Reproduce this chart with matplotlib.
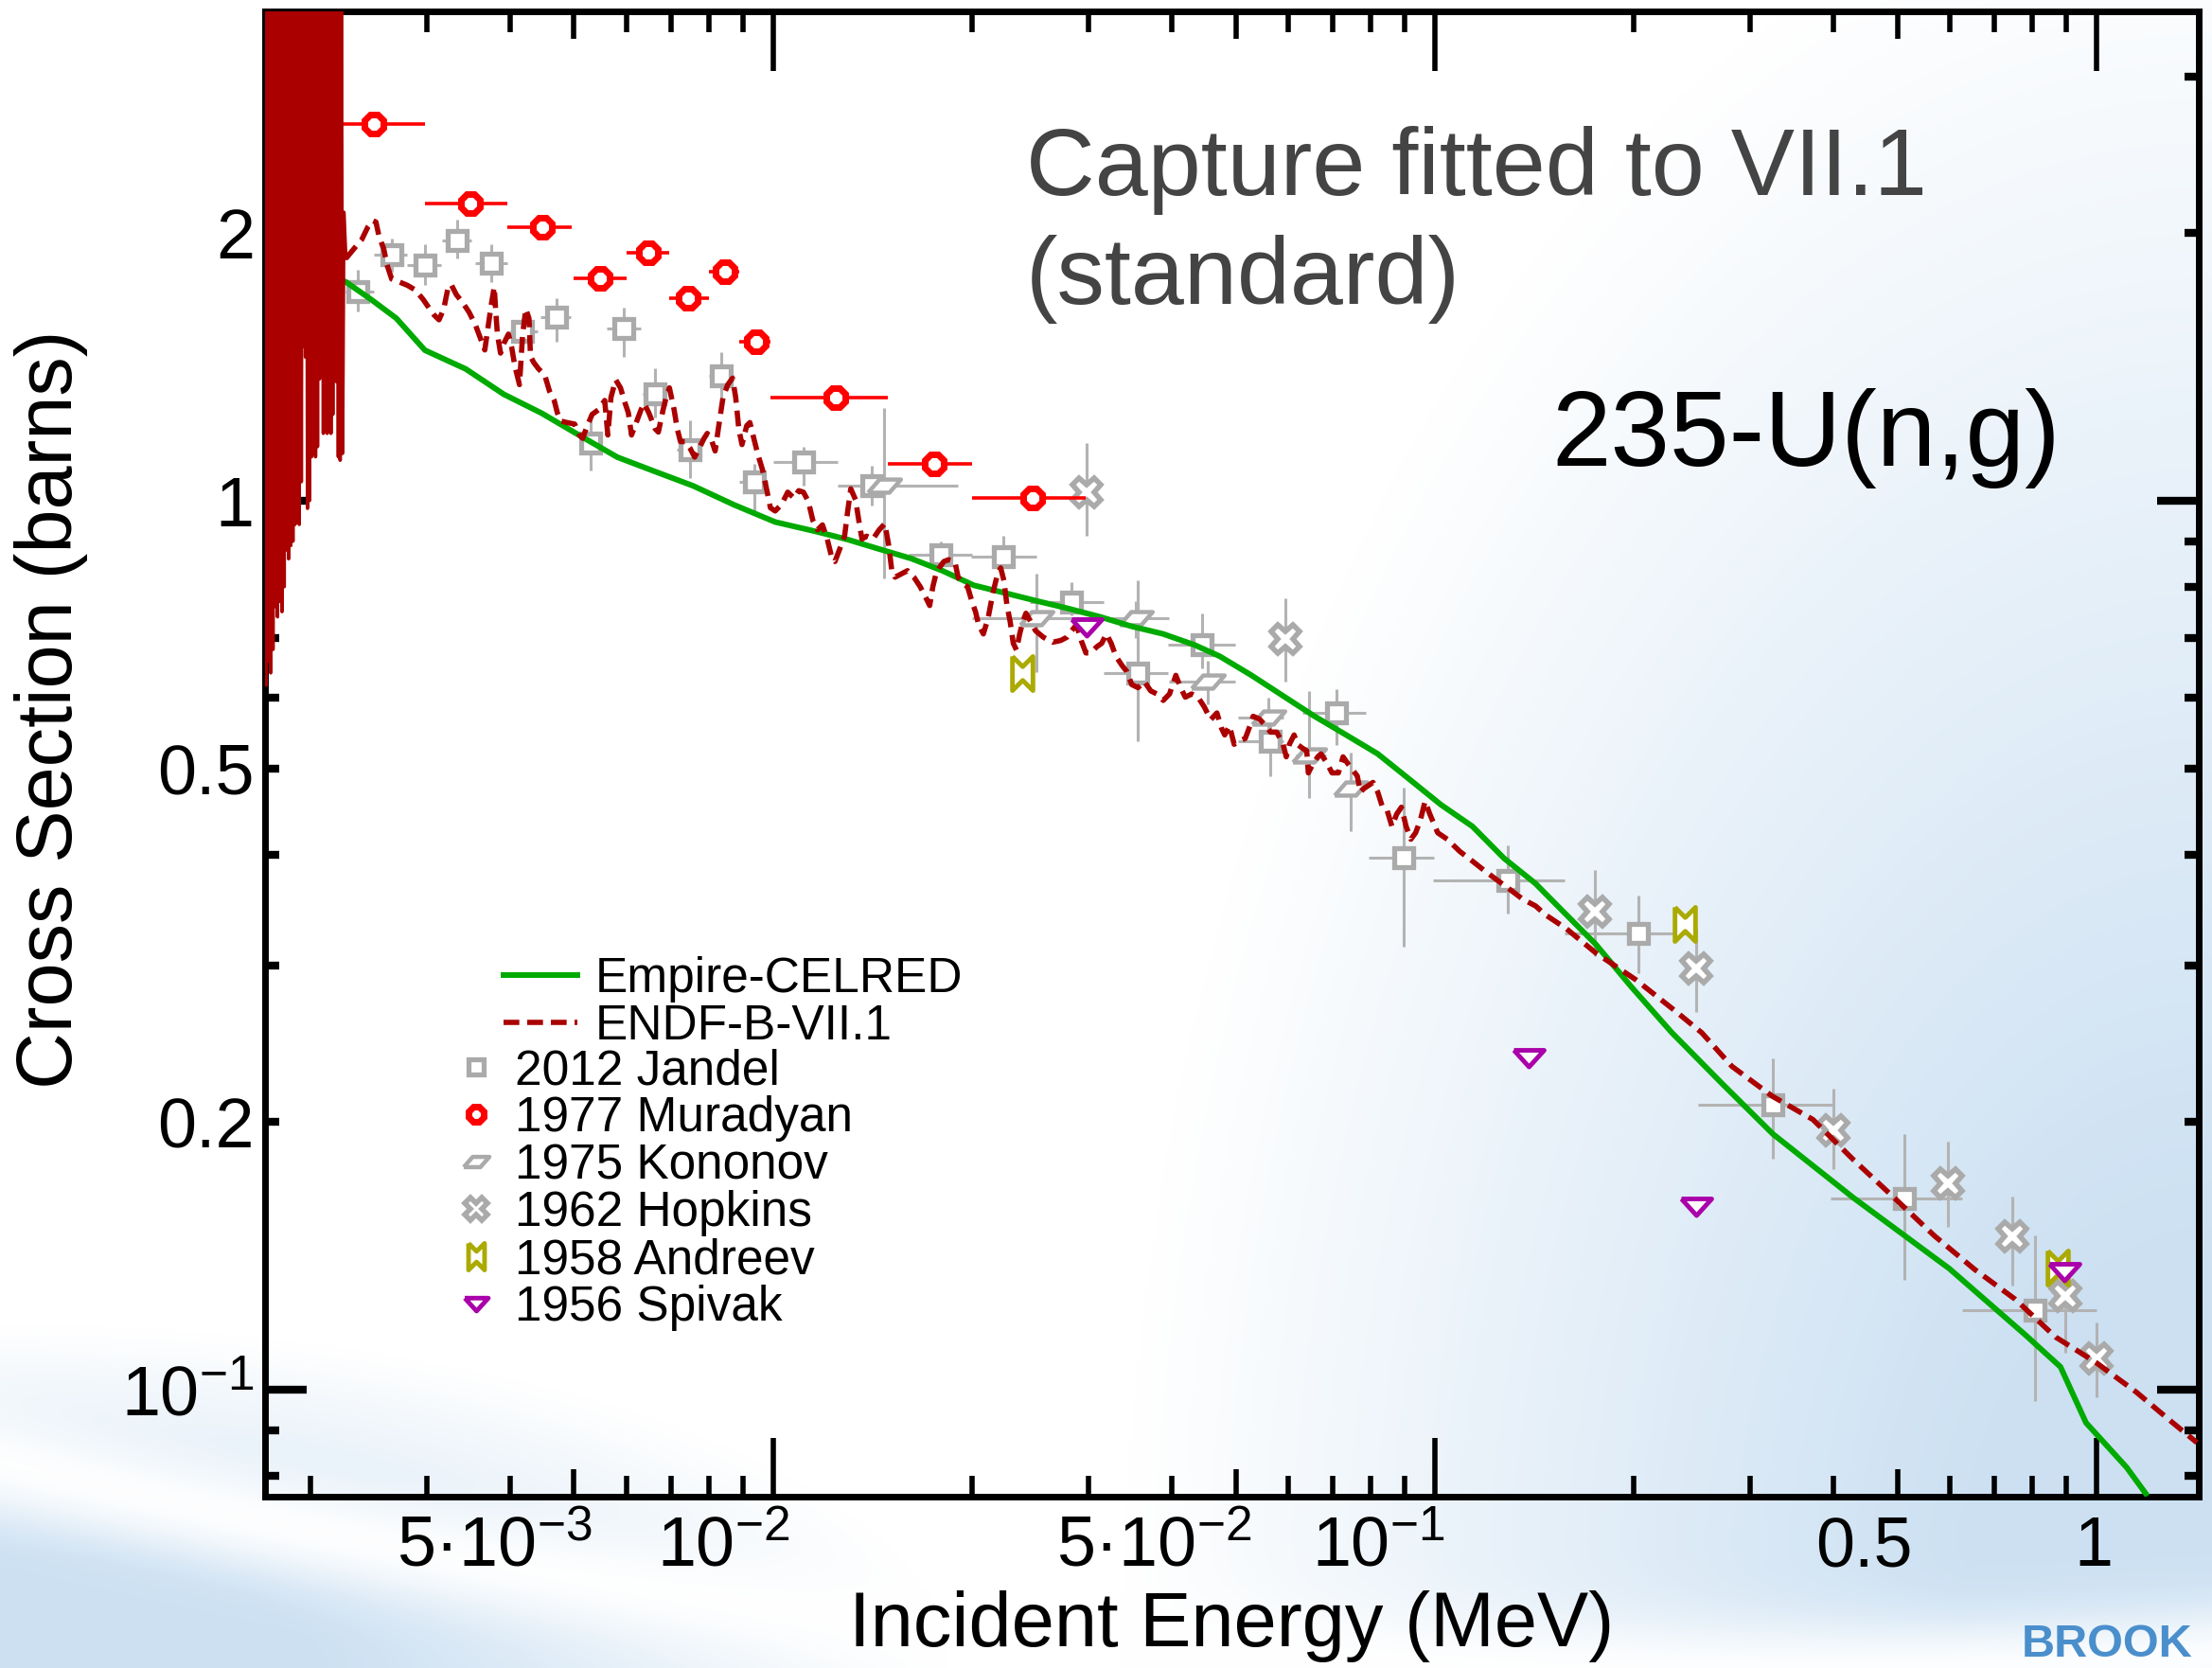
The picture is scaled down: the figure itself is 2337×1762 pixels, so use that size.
import numpy as np
import matplotlib
matplotlib.use("Agg")
import matplotlib.pyplot as plt
from matplotlib.path import Path
from matplotlib.transforms import ScaledTranslation

plt.rcParams['font.family'] = ['Liberation Sans', 'DejaVu Sans']
plt.rcParams['mathtext.fontset'] = 'custom'
plt.rcParams['mathtext.rm'] = 'Liberation Sans'
plt.rcParams['mathtext.it'] = 'Liberation Sans:italic'
plt.rcParams['mathtext.bf'] = 'Liberation Sans:bold'

# ---------------- data (energies in MeV, cross sections in barns) ----------------
empire_e = [1.71e-3, 1.92e-3, 2.08e-3, 2.262e-3, 2.469e-3, 2.695e-3, 2.976e-3, 3.431e-3,
            3.915e-3, 4.467e-3, 5.095e-3, 5.813e-3, 6.632e-3, 7.566e-3, 8.728e-3, 1.007e-2,
            1.161e-2, 1.296e-2, 1.446e-2, 1.614e-2, 1.801e-2, 2.010e-2, 2.243e-2, 2.504e-2,
            2.795e-2, 3.119e-2, 3.481e-2, 3.884e-2, 4.335e-2, 4.733e-2, 5.283e-2, 5.897e-2,
            6.580e-2, 7.344e-2, 8.196e-2, 9.150e-2, 0.1021, 0.1140, 0.1272, 0.1419,
            0.1533, 0.175, 0.198, 0.228, 0.2716, 0.324, 0.429, 0.5993,
            0.78, 0.882, 0.964, 1.11, 1.187]
empire_xs = [2.05, 1.915, 1.81, 1.761, 1.683, 1.603, 1.476, 1.406,
             1.317, 1.254, 1.184, 1.119, 1.078, 1.039, 0.989, 0.946,
             0.923, 0.904, 0.882, 0.861, 0.834, 0.803, 0.787, 0.771,
             0.756, 0.740, 0.722, 0.708, 0.688, 0.668, 0.636, 0.603,
             0.572, 0.545, 0.519, 0.486, 0.455, 0.430, 0.396, 0.371,
             0.350, 0.317, 0.284, 0.2522, 0.221, 0.194, 0.1644, 0.1368,
             0.1153, 0.1061, 0.0918, 0.0818, 0.0764]

# resolved resonance region of ENDF (spikes)
endf_res_e = [1.705e-3, 1.712e-3, 1.719e-3, 1.726e-3, 1.733e-3, 1.740e-3, 1.747e-3, 1.754e-3,
              1.761e-3, 1.768e-3, 1.775e-3, 1.782e-3, 1.789e-3, 1.796e-3, 1.803e-3, 1.810e-3,
              1.817e-3, 1.824e-3, 1.831e-3, 1.838e-3, 1.845e-3, 1.852e-3, 1.859e-3, 1.866e-3,
              1.873e-3, 1.880e-3, 1.887e-3, 1.894e-3, 1.901e-3, 1.908e-3, 1.915e-3, 1.922e-3,
              1.929e-3, 1.936e-3, 1.943e-3, 1.950e-3, 1.957e-3, 1.964e-3, 1.971e-3, 1.978e-3,
              1.985e-3, 1.992e-3, 1.999e-3, 2.006e-3, 2.013e-3, 2.020e-3, 2.027e-3, 2.034e-3,
              2.041e-3, 2.048e-3, 2.055e-3, 2.062e-3, 2.069e-3, 2.076e-3, 2.083e-3, 2.090e-3,
              2.097e-3, 2.104e-3, 2.111e-3, 2.118e-3, 2.125e-3, 2.132e-3, 2.139e-3, 2.146e-3,
              2.153e-3, 2.160e-3, 2.167e-3, 2.174e-3, 2.181e-3, 2.188e-3, 2.195e-3, 2.202e-3,
              2.209e-3, 2.216e-3, 2.225e-3, 2.235e-3, 2.245e-3]
endf_res_xs = [4.0, 0.62, 4.0, 0.66, 4.0, 0.64, 4.0, 0.68,
               4.0, 0.76, 4.0, 0.74, 4.0, 0.77, 4.0, 0.75,
               4.0, 0.80, 4.0, 0.88, 4.0, 0.86, 4.0, 0.89,
               4.0, 0.90, 4.0, 0.94, 4.0, 0.95, 4.0, 0.94,
               4.0, 1.05, 4.0, 1.49, 4.0, 1.45, 4.0, 0.98,
               4.0, 1.00, 4.0, 1.12, 4.0, 1.13, 4.0, 1.12,
               4.0, 1.15, 4.0, 1.37, 4.0, 1.38, 4.0, 1.19,
               4.0, 1.20, 4.0, 1.19, 4.0, 1.22, 4.0, 1.19,
               4.0, 1.25, 4.0, 1.37, 4.0, 1.36, 4.0, 1.12,
               4.0, 1.11, 4.0, 1.13, 2.11]

# unresolved / fast region of ENDF
endf_e = [2.261e-3, 2.324e-3, 2.389e-3, 2.441e-3, 2.482e-3, 2.510e-3, 2.537e-3, 2.579e-3,
          2.608e-3, 2.651e-3, 2.725e-3, 2.801e-3, 2.879e-3, 2.959e-3, 3.025e-3, 3.075e-3,
          3.126e-3, 3.178e-3, 3.231e-3, 3.266e-3, 3.321e-3, 3.394e-3, 3.470e-3, 3.547e-3,
          3.605e-3, 3.666e-3, 3.706e-3, 3.747e-3, 3.788e-3, 3.809e-3, 3.830e-3, 3.872e-3,
          3.915e-3, 3.980e-3, 4.024e-3, 4.069e-3, 4.136e-3, 4.182e-3, 4.228e-3, 4.275e-3,
          4.298e-3, 4.346e-3, 4.418e-3, 4.516e-3, 4.591e-3, 4.667e-3, 4.719e-3, 4.771e-3,
          4.877e-3, 5.012e-3, 5.096e-3, 5.152e-3, 5.238e-3, 5.325e-3, 5.443e-3, 5.564e-3,
          5.625e-3, 5.687e-3, 5.782e-3, 5.878e-3, 5.975e-3, 6.041e-3, 6.108e-3, 6.210e-3,
          6.313e-3, 6.382e-3, 6.488e-3, 6.633e-3, 6.706e-3, 6.817e-3, 6.892e-3, 6.969e-3,
          7.084e-3, 7.162e-3, 7.242e-3, 7.362e-3, 7.484e-3, 7.609e-3, 7.735e-3, 7.863e-3,
          7.950e-3, 8.082e-3, 8.171e-3, 8.262e-3, 8.399e-3, 8.538e-3, 8.680e-3, 8.776e-3,
          8.873e-3, 8.971e-3, 9.120e-3, 9.221e-3, 9.323e-3, 9.477e-3, 9.635e-3, 9.795e-3,
          9.903e-3, 1.0068e-2, 1.0291e-2, 1.0519e-2, 1.0753e-2,
          1.093e-2, 1.111e-2, 1.130e-2, 1.148e-2, 1.167e-2, 1.187e-2, 1.207e-2, 1.227e-2,
          1.240e-2, 1.261e-2, 1.282e-2, 1.296e-2, 1.310e-2, 1.332e-2, 1.347e-2, 1.362e-2,
          1.384e-2, 1.415e-2, 1.446e-2, 1.475e-2, 1.495e-2, 1.511e-2, 1.528e-2, 1.562e-2,
          1.596e-2, 1.632e-2, 1.668e-2, 1.696e-2, 1.724e-2, 1.743e-2, 1.762e-2, 1.782e-2,
          1.811e-2, 1.841e-2, 1.882e-2, 1.903e-2, 1.934e-2, 1.967e-2, 1.999e-2, 2.022e-2,
          2.044e-2, 2.078e-2, 2.112e-2, 2.148e-2, 2.183e-2, 2.207e-2, 2.232e-2, 2.256e-2,
          2.281e-2, 2.306e-2, 2.332e-2, 2.358e-2, 2.384e-2, 2.410e-2, 2.450e-2, 2.491e-2,
          2.560e-2, 2.646e-2, 2.719e-2, 2.780e-2, 2.826e-2, 2.873e-2, 2.921e-2, 2.969e-2,
          3.018e-2, 3.085e-2, 3.137e-2, 3.189e-2, 3.242e-2, 3.296e-2, 3.369e-2, 3.425e-2,
          3.482e-2, 3.559e-2, 3.638e-2, 3.719e-2, 3.801e-2, 3.886e-2, 3.972e-2, 4.060e-2,
          4.128e-2, 4.196e-2, 4.289e-2, 4.385e-2, 4.483e-2, 4.583e-2, 4.684e-2, 4.762e-2,
          4.813e-2, 4.893e-2, 4.974e-2, 5.056e-2, 5.169e-2, 5.255e-2, 5.313e-2, 5.430e-2,
          5.552e-2, 5.643e-2, 5.768e-2, 5.897e-2, 5.962e-2, 6.028e-2, 6.128e-2, 6.196e-2,
          6.299e-2, 6.403e-2, 6.438e-2, 6.545e-2, 6.654e-2, 6.727e-2, 6.877e-2, 6.991e-2,
          7.148e-2, 7.265e-2, 7.387e-2, 7.510e-2, 7.635e-2, 7.717e-2, 7.801e-2, 7.932e-2,
          8.064e-2, 8.198e-2, 8.334e-2, 8.472e-2, 8.613e-2, 8.756e-2, 8.901e-2, 9.049e-2,
          9.200e-2, 9.352e-2, 9.507e-2, 9.665e-2, 9.826e-2, 0.1010, 0.1044, 0.1091,
          0.1140, 0.1191, 0.1244, 0.1300, 0.1359, 0.1420, 0.1470, 0.1580,
          0.1750, 0.2014, 0.2318, 0.2532, 0.2812, 0.3237, 0.3727, 0.4288,
          0.4940, 0.5686, 0.6547, 0.7534, 0.8673, 0.998, 1.148, 1.299, 1.418]
endf_xs = [1.872, 1.919, 1.966, 2.032, 2.065, 2.057, 1.982, 1.919,
           1.842, 1.775, 1.761, 1.746, 1.725, 1.683, 1.643, 1.616,
           1.597, 1.643, 1.746, 1.746, 1.704, 1.670, 1.629, 1.577,
           1.527, 1.477, 1.564, 1.656, 1.739, 1.629, 1.539, 1.465,
           1.501, 1.539, 1.489, 1.418, 1.350, 1.539, 1.643, 1.603,
           1.453, 1.430, 1.407, 1.384, 1.328, 1.296, 1.255, 1.229,
           1.224, 1.219, 1.185, 1.175, 1.214, 1.250, 1.265, 1.296,
           1.185, 1.307, 1.367, 1.339, 1.286, 1.255, 1.185, 1.224,
           1.265, 1.286, 1.255, 1.204, 1.194, 1.265, 1.307, 1.339,
           1.265, 1.204, 1.165, 1.165, 1.146, 1.119, 1.146, 1.175,
           1.190, 1.165, 1.137, 1.204, 1.307, 1.350, 1.373, 1.307,
           1.204, 1.156, 1.214, 1.224, 1.185, 1.128, 1.083, 1.022,
           0.9815, 0.9734, 0.9896, 1.022, 1.006,
           1.026, 1.022, 0.998, 0.950, 0.927, 0.939, 0.905, 0.861,
           0.854, 0.883, 0.912, 0.973, 1.031, 1.002, 0.950, 0.905,
           0.912, 0.905, 0.927, 0.942, 0.890, 0.834, 0.820, 0.827,
           0.834, 0.820, 0.800, 0.781, 0.762, 0.800, 0.827, 0.840,
           0.854, 0.858, 0.854, 0.820, 0.807, 0.800, 0.768, 0.750,
           0.725, 0.708, 0.737, 0.787, 0.827, 0.840, 0.813, 0.762,
           0.731, 0.691, 0.679, 0.708, 0.731, 0.747, 0.731, 0.714,
           0.702, 0.693, 0.696, 0.702, 0.714, 0.725, 0.696, 0.674,
           0.674, 0.685, 0.691, 0.708, 0.691, 0.668, 0.652, 0.642,
           0.621, 0.616, 0.626, 0.611, 0.606, 0.596, 0.606, 0.636,
           0.616, 0.601, 0.606, 0.601, 0.586, 0.567, 0.577, 0.554,
           0.545, 0.558, 0.532, 0.536, 0.540, 0.558, 0.572, 0.568,
           0.558, 0.549, 0.549, 0.532, 0.515, 0.532, 0.545, 0.532,
           0.527, 0.523, 0.494, 0.506, 0.515, 0.519, 0.506, 0.494,
           0.494, 0.515, 0.506, 0.498, 0.490, 0.470, 0.474, 0.478,
           0.482, 0.470, 0.452, 0.448, 0.430, 0.444, 0.452, 0.430,
           0.416, 0.423, 0.437, 0.459, 0.444, 0.423, 0.416, 0.403,
           0.393, 0.383, 0.374, 0.365, 0.356, 0.350, 0.342, 0.330,
           0.310, 0.289, 0.266, 0.252, 0.231, 0.2138, 0.2013, 0.1815,
           0.1645, 0.1490, 0.1365, 0.1264, 0.1146, 0.1073, 0.0994, 0.0920, 0.0872]

# 2012 Jandel
jandel_e = [2.36e-3, 2.65e-3, 2.98e-3, 3.33e-3, 3.75e-3, 4.18e-3, 4.70e-3, 5.30e-3, 5.94e-3,
            6.63e-3, 7.48e-3, 8.35e-3, 9.36e-3, 1.11e-2, 1.41e-2, 1.79e-2, 2.23e-2, 2.82e-2,
            3.55e-2, 4.45e-2, 5.63e-2, 7.10e-2, 8.96e-2, 0.129, 0.203, 0.324, 0.512, 0.808]
jandel_xs = [1.72, 1.89, 1.84, 1.96, 1.85, 1.55, 1.61, 1.16, 1.56,
             1.32, 1.14, 1.38, 1.05, 1.106, 1.04, 0.87, 0.865, 0.768,
             0.639, 0.688, 0.536, 0.577, 0.397, 0.374, 0.326, 0.209, 0.164, 0.123]
jandel_e_lo = [2.26e-3, 2.49e-3, 2.80e-3, 3.16e-3, 3.55e-3, 4.0e-3, 4.45e-3, 5.1e-3, 5.6e-3,
               6.35e-3, 7.15e-3, 8.0e-3, 8.9e-3, 1.0e-2, 1.25e-2, 1.60e-2, 1.99e-2, 2.44e-2,
               3.16e-2, 3.95e-2, 5.04e-2, 6.30e-2, 7.93e-2, 0.0995, 0.157, 0.25, 0.396, 0.626]
jandel_e_hi = [2.49e-3, 2.80e-3, 3.15e-3, 3.50e-3, 3.96e-3, 4.4e-3, 4.95e-3, 5.5e-3, 6.3e-3,
               6.9e-3, 7.8e-3, 8.7e-3, 9.8e-3, 1.25e-2, 1.64e-2, 2.0e-2, 2.50e-2, 3.16e-2,
               3.95e-2, 4.99e-2, 5.90e-2, 7.86e-2, 9.97e-2, 0.157, 0.248, 0.40, 0.626, 1.0]
jandel_xs_lo = [1.63, 1.81, 1.75, 1.87, 1.76, 1.50, 1.51, 1.08, 1.45,
                1.24, 1.06, 1.30, 0.965, 1.04, 0.988, 0.84, 0.84, 0.743,
                0.536, 0.647, 0.490, 0.531, 0.315, 0.343, 0.294, 0.182, 0.133, 0.097]
jandel_xs_hi = [1.82, 1.97, 1.94, 2.07, 1.94, 1.60, 1.69, 1.23, 1.65,
                1.41, 1.23, 1.47, 1.10, 1.15, 1.095, 0.90, 0.912, 0.810,
                0.813, 0.746, 0.572, 0.613, 0.476, 0.409, 0.360, 0.236, 0.194, 0.149]

# 1977 Muradyan
muradyan_e = [2.49e-3, 3.49e-3, 4.48e-3, 5.47e-3, 6.48e-3, 7.43e-3, 8.45e-3, 9.42e-3,
              1.242e-2, 1.75e-2, 2.47e-2]
muradyan_xs = [2.65, 2.16, 2.03, 1.78, 1.90, 1.69, 1.81, 1.51, 1.306, 1.10, 1.008]
muradyan_e_lo = [2.0e-3, 2.98e-3, 3.97e-3, 5.0e-3, 6.0e-3, 6.97e-3, 7.99e-3, 8.9e-3,
                 9.9e-3, 1.49e-2, 2.0e-2]
muradyan_e_hi = [2.98e-3, 3.96e-3, 4.96e-3, 6.0e-3, 6.97e-3, 7.99e-3, 8.9e-3, 9.9e-3,
                 1.49e-2, 2.0e-2, 2.97e-2]

# 1975 Kononov
kononov_e = [1.47e-2, 2.50e-2, 3.53e-2, 4.53e-2, 5.61e-2, 6.45e-2, 7.47e-2]
kononov_xs = [1.04, 0.737, 0.737, 0.626, 0.570, 0.517, 0.474]
kononov_e_lo = [1.35e-2, 2.0e-2, 3.16e-2, 3.97e-2, 5.04e-2, 6.17e-2, 7.2e-2]
kononov_e_hi = [1.90e-2, 3.11e-2, 3.97e-2, 4.99e-2, 5.90e-2, 6.84e-2, 7.8e-2]
kononov_xs_lo = [0.818, 0.642, 0.70, 0.59, 0.54, 0.463, 0.425]
kononov_xs_hi = [1.27, 0.827, 0.77, 0.66, 0.60, 0.611, 0.521]

# 1962 Hopkins
hopkins_e = [2.98e-2, 5.95e-2, 0.1744, 0.248, 0.400, 0.597, 0.746, 0.898, 1.0]
hopkins_xs = [1.022, 0.699, 0.345, 0.298, 0.196, 0.1705, 0.1487, 0.1275, 0.1085]
hopkins_xs_lo = [0.913, 0.626, 0.307, 0.266, 0.177, 0.1525, 0.131, 0.110, 0.098]
hopkins_xs_hi = [1.16, 0.777, 0.384, 0.330, 0.218, 0.190, 0.165, 0.143, 0.119]

# 1958 Andreev
andreev_e = [2.38e-2, 0.239, 0.875]
andreev_xs = [0.639, 0.334, 0.1373]

# 1956 Spivak
spivak_e = [2.98e-2, 0.1388, 0.248, 0.895]
spivak_xs = [0.721, 0.2365, 0.161, 0.1358]

xtick_vals = [5e-3, 1e-2, 5e-2, 1e-1, 0.5, 1]
xtick_labels = ['5·10$^{-3}$', '10$^{-2}$', '5·10$^{-2}$', '10$^{-1}$', '0.5', '1']
ytick_vals = [0.1, 0.2, 0.5, 1, 2]
ytick_labels = ['10$^{-1}$', '0.2', '0.5', '1', '2']

# ---------------- styling ----------------
GRAY = '#aaaaaa'
EGRAY = '#b3b3b3'
RED = '#ff0000'
DARKRED = '#aa0000'
GREEN = '#00aa00'
OLIVE = '#aaaa00'
PURPLE = '#aa00aa'

kononov_marker = Path([(-1, -0.4), (0.3, -0.4), (1, 0.4), (-0.3, 0.4), (-1, -0.4)])
spivak_marker = Path([(-1, 0.5), (1, 0.5), (0, -0.6), (-1, 0.5)])
andreev_marker = Path([(-0.6, 1), (0, 0.4), (0.6, 1), (0.6, -1), (0, -0.4), (-0.6, -1), (-0.6, 1)])

# label nudges (inches) so the x labels sit like ROOT places them
xlabel_shift = [0.194, 0.179, 0.164, 0.104, 0.164, 0.17]


def err(vals, lo, hi):
    vals = np.asarray(vals)
    return np.array([vals - np.asarray(lo), np.asarray(hi) - vals])


fig = plt.figure(figsize=(23.37, 17.62), dpi=100)

# light blue backdrop with a white swoosh
yy, xx = np.mgrid[0:1762:4, 0:2337:4].astype(float)
w_r = np.clip(1 - np.hypot((2337 - xx) / 1150, (1762 - yy) / 1900), 0, 1)
w_l = np.clip(1 - np.hypot(xx / 1000, (1762 - yy) / 360), 0, 1)
ys = 1545 + 0.24 * xx - 6.5e-5 * xx ** 2
band = 1 - 0.95 * np.exp(-((yy - ys) / 55) ** 2)
w = np.clip(w_r * 1.3 + w_l * 1.5, 0, 1) * band
blue = np.array([0.80, 0.88, 0.95])
img = (1 - w[..., None]) * 1.0 + w[..., None] * blue
bg = fig.add_axes([0, 0, 1, 1], zorder=0)
bg.imshow(img, extent=[0, 1, 0, 1], aspect='auto', interpolation='bilinear', origin='upper')
bg.set_axis_off()

ax = fig.add_axes([0.1198, 0.1027, 0.8742, 0.8905], zorder=1)
ax.set_facecolor('none')
ax.set_xscale('log')
ax.set_yscale('log')

jan = ax.errorbar(jandel_e, jandel_xs, xerr=err(jandel_e, jandel_e_lo, jandel_e_hi),
                  yerr=err(jandel_xs, jandel_xs_lo, jandel_xs_hi), fmt='s', ms=15,
                  mfc='white', mec=GRAY, mew=3.8, ecolor=EGRAY, elinewidth=2.2, capsize=0,
                  zorder=2)
kon = ax.errorbar(kononov_e, kononov_xs, xerr=err(kononov_e, kononov_e_lo, kononov_e_hi),
                  yerr=err(kononov_xs, kononov_xs_lo, kononov_xs_hi), fmt='none',
                  ecolor=EGRAY, elinewidth=2.2, capsize=0, zorder=2)
kon_m, = ax.plot(kononov_e, kononov_xs, ls='none', marker=kononov_marker, ms=25,
                 mfc='white', mec=GRAY, mew=3.2, zorder=2.2)
hop = ax.errorbar(hopkins_e, hopkins_xs, yerr=err(hopkins_xs, hopkins_xs_lo, hopkins_xs_hi),
                  fmt='X', ms=22, mfc='white', mec=GRAY, mew=4, ecolor=EGRAY,
                  elinewidth=2.2, capsize=0, zorder=2)
mur = ax.errorbar(muradyan_e, muradyan_xs, xerr=err(muradyan_e, muradyan_e_lo, muradyan_e_hi),
                  fmt='8', ms=15, mfc='white', mec=RED, mew=5, ecolor=RED,
                  elinewidth=2.6, capsize=0, zorder=2.5)

emp, = ax.plot(empire_e, empire_xs, color=GREEN, lw=4.3, zorder=3, label='Empire-CELRED')
# resonance part drawn solid (dense), the rest dashed
ax.plot(endf_res_e + endf_e[:1], endf_res_xs + endf_xs[:1], color=DARKRED, lw=2.6,
        zorder=3.5)
endf, = ax.plot(endf_e, endf_xs, color=DARKRED, lw=4, dashes=(3, 1.5), zorder=3.5,
                label='ENDF-B-VII.1')

andr, = ax.plot(andreev_e, andreev_xs, ls='none', marker=andreev_marker, ms=26,
                mfc='white', mec=OLIVE, mew=3.5, zorder=4)
spiv, = ax.plot(spivak_e, spivak_xs, ls='none', marker=spivak_marker, ms=23,
                mfc='white', mec=PURPLE, mew=3.5, zorder=4)

ax.set_xlim(1.706e-3, 1.427)
ax.set_ylim(0.0758, 3.55)

ax.set_xticks(xtick_vals)
ax.set_xticklabels(xtick_labels)
x_minor = [m * d for d in (1e-3, 1e-2, 1e-1) for m in (2, 3, 4, 6, 7, 8, 9)]
ax.set_xticks(x_minor, minor=True)
ax.set_yticks(ytick_vals)
ax.set_yticklabels(ytick_labels)
ax.set_yticks([0.08, 0.09, 0.3, 0.4, 0.6, 0.7, 0.8, 0.9, 3], minor=True)
ax.tick_params(which='both', direction='in', top=True, right=True, labelsize=53)
ax.tick_params(axis='x', which='major', length=21, width=4, pad=14)
ax.tick_params(axis='x', which='minor', length=16, width=4, labelbottom=False)
ax.tick_params(axis='y', which='both', length=11, width=6, pad=8)
ax.tick_params(axis='y', which='minor', labelleft=False)
for t, v in zip(ax.xaxis.get_major_ticks(), xtick_vals):
    if v in (1e-2, 1e-1, 1):
        t.tick1line.set_markersize(45)
        t.tick2line.set_markersize(45)
for t, v in zip(ax.yaxis.get_major_ticks(), ytick_vals):
    if v in (0.1, 1):
        t.tick1line.set_markersize(32)
        t.tick2line.set_markersize(32)
for lbl, dx in zip(ax.get_xticklabels(), xlabel_shift):
    lbl.set_horizontalalignment('right')
    lbl.set_transform(lbl.get_transform() + ScaledTranslation(dx, 0, fig.dpi_scale_trans))
for s in ax.spines.values():
    s.set_linewidth(5)

ax.set_xlabel('Incident Energy (MeV)', fontsize=58.5)
ax.set_ylabel('Cross Section (barns)', fontsize=59.7)
ax.xaxis.set_label_coords(0.5, -0.063)
ax.yaxis.set_label_coords(-0.0915, 0.530)

leg1 = ax.legend(handles=[emp, endf], loc='upper left', bbox_to_anchor=(0.1233, 0.364),
                 fontsize=37, frameon=False, handlelength=1.52, handletextpad=0.36,
                 borderpad=0, borderaxespad=0, labelspacing=0.019)
ax.add_artist(leg1)
ax.legend(handles=[jan[0], mur[0], kon_m, hop[0], andr, spiv],
          labels=['2012 Jandel', '1977 Muradyan', '1975 Kononov', '1962 Hopkins',
                  '1958 Andreev', '1956 Spivak'],
          loc='upper left', bbox_to_anchor=(0.0996, 0.3019), fontsize=37, frameon=False,
          handlelength=0.78, handletextpad=0.39, borderpad=0, borderaxespad=0,
          labelspacing=0.019, numpoints=1, markerscale=0.78)

fig.text(1083.6 / 2337, 1 - 206 / 1762, 'Capture fitted to VII.1', fontsize=72.5,
         color='#444444', va='baseline', ha='left')
fig.text(1083.6 / 2337, 1 - 321 / 1762, '(standard)', fontsize=72.5,
         color='#444444', va='baseline', ha='left')
fig.text(1639 / 2337, 1 - 492 / 1762, '235-U(n,g)', fontsize=81, color='black',
         va='baseline', ha='left')
fig.text(2136 / 2337, 0.007, 'BROOK', fontsize=35, fontweight='bold',
         color='#4a8fcc', va='baseline', ha='left')

fig.savefig('out.png', dpi=100)
